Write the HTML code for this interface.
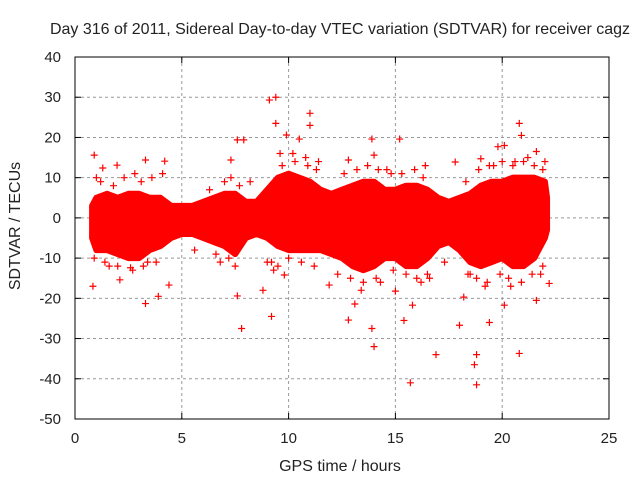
<!DOCTYPE html>
<html><head><meta charset="utf-8"><style>
body{margin:0;background:#fff;}
svg text{font-family:"Liberation Sans",sans-serif;fill:#222;}
</style></head><body>
<svg id="chart" width="640" height="480">
<rect width="640" height="480" fill="#fff"/>
<g id="grid"></g>
<g id="marks"></g>
<rect x="75" y="57" width="534" height="362" fill="none" stroke="#000" stroke-width="1"/>
<g id="ticks"></g>
<text x="340" y="34" font-size="16" text-anchor="middle">Day 316 of 2011, Sidereal Day-to-day VTEC variation (SDTVAR) for receiver cagz</text>
<text x="340" y="471" font-size="16" text-anchor="middle">GPS time / hours</text>
<text transform="translate(20,226) rotate(-90)" font-size="16" text-anchor="middle">SDTVAR / TECUs</text>
</svg>
<script>
const xTicks=[0,5,10,15,20,25];
const yTicks=[40,30,20,10,0,-10,-20,-30,-40,-50];
const envHours=[0.8,1,1.5,2,2.5,3,3.5,4,4.5,5,5.5,6,6.5,7,7.5,8,8.5,9,9.5,10,10.5,11,11.5,12,12.5,13,13.5,14,14.5,15,15.5,16,16.5,17,17.5,18,18.5,19,19.5,20,20.5,21,21.5,22,22.1];
const envUpper=[3,5,6,5,6,6,5,5,3,3,3,4,5,6,6,4,4,7,10,11,10,9,7,6,7,8,9,9,7,7,8,8,7,5,4,5,6,8,9,9,10,10,10,9,5];
const envLower=[-5,-8,-8,-9,-10,-10,-8,-7,-5,-4,-4,-5,-6,-7,-9,-5,-4,-5,-7,-8,-8,-8,-8,-9,-10,-12,-13,-12,-10,-10,-12,-12,-10,-7,-6,-8,-11,-12,-11,-10,-12,-12,-10,-5,-3];
const outHours=[0.9,9.1,9.4,9.4,11.0,11.0,7.6,7.9,9.9,10.5,9.2,7.8,3.3,3.9,14.0,13.9,15.7,16.9,18.7,18.8,18.8,20.8,20.8,20.9,20.1,19.8,19.0,21.6,15.2,16.4,22.0,22.2,21.6,18.2,18.0,20.1,19.4,15.4,15.8,15.0,12.8,13.1,7.6,8.8,9.8,11.9,12.8,14.0,13.9,4.2,3.3,1.97,1.3,7.3,17.8,0.84,2.1,4.4,2.6,3.4,1.0,1.6,2.8,5.6,6.8,8.2,10.2,11.4,12.3,13.4,14.6,16.2,17.3,18.5,19.6,20.4,21.2,21.8,9.6,10.8,14.3,16.6,19.2,20.6,
1.2,1.8,2.3,3.1,3.6,4.1,0.9,1.4,2.0,2.7,3.2,3.8,6.3,7.0,7.3,7.7,6.6,7.2,7.5,9.0,9.3,9.7,10.3,10.9,11.3,9.2,9.5,10.0,10.6,11.2,12.6,13.2,13.7,14.2,14.8,12.9,13.5,14.1,14.9,15.5,16.0,16.5,15.3,15.9,16.3,18.3,18.9,19.4,20.0,20.5,21.0,21.5,21.9,18.4,18.8,19.3,19.9,20.3,20.9,21.4,21.9];
const outValues=[15.6,29.3,30,23.5,26,23,19.4,19.4,20.6,19.6,-24.5,-27.5,-21.3,-19.5,-32,-27.5,-41,-34,-36.5,-41.5,-34,-33.7,23.5,20.5,18,17.7,14.7,16.5,19.6,13,14,-16.3,-20.5,-19.7,-26.7,-21.7,-26,-25.5,-21.7,-18.2,-25.4,-21.4,-19.4,-18,-14.2,-16.7,14.4,15.6,19.6,14.1,14.4,13.1,12.4,14.4,13.9,-17,-15.4,-16.7,-12.4,-11,10,-12,11,-8,-11,9,16,14,-14,-18,12,-16,-11,-14,13,-17,15,-14,16,15,-16,-15,-17,14,
9,8,10,9,10,11,-10,-11,-12,-13,-12,-11,7,9,10,8,-9,-10,-12,-11,-13,13,14,13,12,-11,-12,-10,-11,-12,11,12,13,12,11,-15,-16,-15,-13,-14,-15,-14,11,12,10,9,12,13,14,13,14,13,12,-14,-15,-16,-14,-15,-16,-14,-12];
const X=h=>75+h*534/25;
const Y=v=>57+(40-v)*362/90;
const NS="http://www.w3.org/2000/svg";
const grid=document.getElementById('grid'),ticks=document.getElementById('ticks'),marks=document.getElementById('marks');
function mk(tag,attrs,parent){const e=document.createElementNS(NS,tag);for(const k in attrs)e.setAttribute(k,attrs[k]);parent.appendChild(e);return e;}
xTicks.forEach(t=>{const x=X(t);
 if(t>0&&t<25){const g=mk('line',{x1:x,x2:x,y1:57,y2:419,stroke:'#999','stroke-dasharray':'3,3'},grid);
 
 }
 mk('line',{x1:x,x2:x,y1:419,y2:413,stroke:'#000'},ticks);mk('line',{x1:x,x2:x,y1:57,y2:63,stroke:'#000'},ticks);
 const tx=mk('text',{x:x,y:443,'font-size':15,'text-anchor':'middle'},ticks);tx.textContent=t;
 
 });
yTicks.forEach(t=>{const y=Y(t);
 if(t<40&&t>-50){const g=mk('line',{x1:75,x2:609,y1:y,y2:y,stroke:'#999','stroke-dasharray':'3,3'},grid);
 
 }
 mk('line',{x1:75,x2:81,y1:y,y2:y,stroke:'#000'},ticks);mk('line',{x1:609,x2:603,y1:y,y2:y,stroke:'#000'},ticks);
 const tx=mk('text',{x:61,y:y+5,'font-size':15,'text-anchor':'end'},ticks);tx.textContent=t;
 
 });
let pts=envHours.map((h,i)=>X(h)+','+Y(envUpper[i]));
for(let i=envHours.length-1;i>=0;i--)pts.push(X(envHours[i])+','+Y(envLower[i]));
const band=mk('polygon',{points:pts.join(' '),fill:'#f00',stroke:'#f00','stroke-width':6,'stroke-linejoin':'round'},marks);


outHours.forEach((h,i)=>{const x=X(h),y=Y(outValues[i]);
 const p=mk('path',{d:`M${x-3.5},${y}h7M${x},${y-3.5}v7`,stroke:'#f00','stroke-width':1.2,fill:'none'},marks);
 
 });
</script>
</body></html>
